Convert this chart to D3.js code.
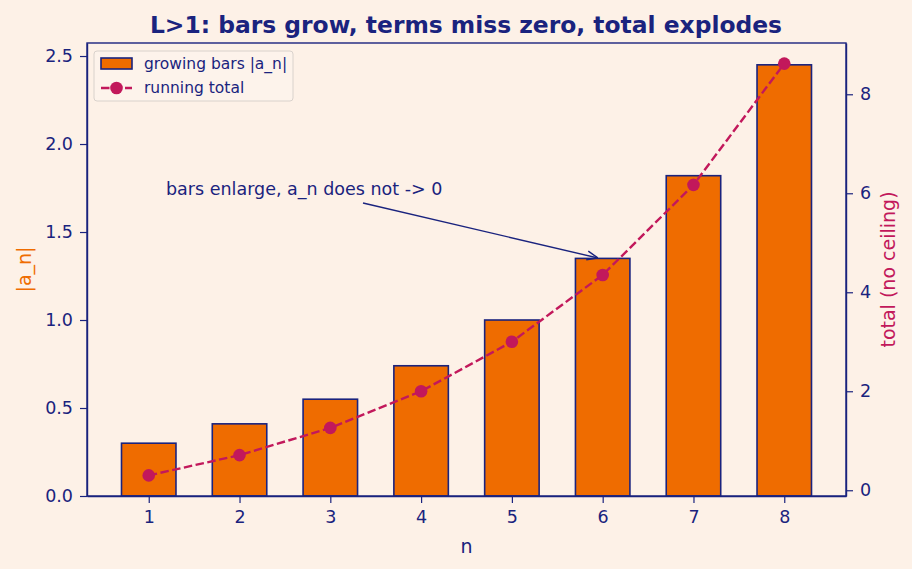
<!DOCTYPE html>
<html>
<head>
<meta charset="utf-8">
<script src="https://cdn.jsdelivr.net/npm/d3@7"></script>
<style>
  body { margin: 0; background: #fdf1e7; }
  svg { display: block; font-family: "DejaVu Sans", sans-serif; }
</style>
</head>
<body>
<script>
// chart data
var ns = [1, 2, 3, 4, 5, 6, 7, 8];
var barValues = [0.30, 0.41, 0.55, 0.74, 1.00, 1.35, 1.82, 2.45];
var runningTotal = [0.30, 0.71, 1.26, 2.00, 3.00, 4.35, 6.17, 8.62];
var leftTicks = [0.0, 0.5, 1.0, 1.5, 2.0, 2.5];
var rightTicks = [0, 2, 4, 6, 8];

var navy = "#1a237e";
var orange = "#ef6c00";
var crimson = "#c2185b";

var width = 912, height = 569;
var margin = {top: 43, right: 66, bottom: 73, left: 87};
var plotW = width - margin.left - margin.right;
var plotH = height - margin.top - margin.bottom;

var svg = d3.select("body").append("svg")
  .attr("width", width)
  .attr("height", height);

svg.append("rect").attr("width", width).attr("height", height).attr("fill", "#fdf1e7");

var g = svg.append("g").attr("transform", "translate(" + margin.left + "," + margin.top + ")");

var barW = 0.6;
var x = d3.scaleLinear().domain([0.32, 8.68]).range([0, plotW]);
var yLeft = d3.scaleLinear().domain([0, 2.574]).range([plotH, 0]);
var tMin = d3.min(runningTotal), tMax = d3.max(runningTotal), pad = (tMax - tMin) * 0.05;
var yRight = d3.scaleLinear().domain([tMin - pad, tMax + pad]).range([plotH, 0]);

// bars
g.selectAll(".bar")
  .data(barValues)
  .enter().append("rect")
  .attr("class", "bar")
  .attr("x", function(d, i) { return x(ns[i] - barW / 2); })
  .attr("width", function() { return x(barW) - x(0); })
  .attr("y", function(d) { return yLeft(d); })
  .attr("height", function(d) { return yLeft(0) - yLeft(d); })
  .attr("fill", orange)
  .attr("stroke", navy)
  .attr("stroke-width", 1.6);

// running total line
var line = d3.line()
  .x(function(d, i) { return x(ns[i]); })
  .y(function(d) { return yRight(d); });

g.append("path")
  .datum(runningTotal)
  .attr("d", line)
  .attr("fill", "none")
  .attr("stroke", crimson)
  .attr("stroke-width", 2.4)
  .attr("stroke-dasharray", "8.5,3.5");

g.selectAll(".dot")
  .data(runningTotal)
  .enter().append("circle")
  .attr("class", "dot")
  .attr("cx", function(d, i) { return x(ns[i]); })
  .attr("cy", function(d) { return yRight(d); })
  .attr("r", 6.3)
  .attr("fill", crimson);

// axes
function styleAxis(sel) {
  sel.selectAll("path").attr("stroke", navy).attr("stroke-width", 1.4);
  sel.selectAll("line").attr("stroke", navy).attr("stroke-width", 1.2);
  sel.selectAll("text").attr("fill", navy).style("font-size", "17.5px").style("font-family", "DejaVu Sans");
}

var xAxis = g.append("g")
  .attr("transform", "translate(0," + plotH + ")")
  .call(d3.axisBottom(x).tickValues(ns).tickFormat(d3.format("d")).tickSize(7).tickPadding(8).tickSizeOuter(0));
styleAxis(xAxis);

var leftAxis = g.append("g")
  .call(d3.axisLeft(yLeft).tickValues(leftTicks).tickFormat(d3.format(".1f")).tickSize(7).tickPadding(7).tickSizeOuter(0));
styleAxis(leftAxis);

var rightAxis = g.append("g")
  .attr("transform", "translate(" + plotW + ",0)")
  .call(d3.axisRight(yRight).tickValues(rightTicks).tickFormat(d3.format("d")).tickSize(7).tickPadding(7).tickSizeOuter(0));
styleAxis(rightAxis);

// frame
g.append("rect")
  .attr("width", plotW).attr("height", plotH)
  .attr("fill", "none").attr("stroke", navy).attr("stroke-width", 1.4);

// axis labels
svg.append("text")
  .attr("x", margin.left + plotW / 2).attr("y", 553)
  .attr("text-anchor", "middle").attr("fill", navy).style("font-size", "19px")
  .text("n");

svg.append("text")
  .attr("transform", "translate(31," + (margin.top + plotH / 2) + ") rotate(-90)")
  .attr("text-anchor", "middle").attr("fill", orange).style("font-size", "19px")
  .text("|a_n|");

svg.append("text")
  .attr("transform", "translate(895," + (margin.top + plotH / 2) + ") rotate(-90)")
  .attr("text-anchor", "middle").attr("fill", crimson).style("font-size", "19px")
  .text("total (no ceiling)");

// title
svg.append("text")
  .attr("x", margin.left + plotW / 2 - 0.5).attr("y", 33)
  .attr("text-anchor", "middle").attr("fill", navy)
  .style("font-size", "23.4px").style("font-weight", "bold")
  .text("L>1: bars grow, terms miss zero, total explodes");

// annotation
svg.append("defs").append("marker")
  .attr("id", "head").attr("viewBox", "0 0 10 10").attr("refX", 10).attr("refY", 5)
  .attr("markerWidth", 11).attr("markerHeight", 11).attr("markerUnits", "userSpaceOnUse")
  .attr("orient", "auto")
  .append("path").attr("d", "M0,1 L10,5 L0,9").attr("fill", "none").attr("stroke", navy).attr("stroke-width", 1.3);

svg.append("text")
  .attr("x", 166).attr("y", 195)
  .attr("fill", navy).style("font-size", "17.5px")
  .text("bars enlarge, a_n does not -> 0");

svg.append("line")
  .attr("x1", 363).attr("y1", 203).attr("x2", 598).attr("y2", 258)
  .attr("stroke", navy).attr("stroke-width", 1.4)
  .attr("marker-end", "url(#head)");

// legend
var legend = svg.append("g").attr("transform", "translate(94,51)");
legend.append("rect")
  .attr("width", 199).attr("height", 50).attr("rx", 3)
  .attr("fill", "#fdf4ec").attr("fill-opacity", 0.8)
  .attr("stroke", "#d9d2cc").attr("stroke-width", 1);
legend.append("rect")
  .attr("x", 7).attr("y", 7).attr("width", 31).attr("height", 11)
  .attr("fill", orange).attr("stroke", navy).attr("stroke-width", 1.6);
legend.append("text")
  .attr("x", 50).attr("y", 18).attr("fill", navy).style("font-size", "15.5px")
  .text("growing bars |a_n|");
legend.append("line")
  .attr("x1", 7).attr("x2", 38).attr("y1", 37).attr("y2", 37)
  .attr("stroke", crimson).attr("stroke-width", 2.4).attr("stroke-dasharray", "8.5,3.5");
legend.append("circle")
  .attr("cx", 22.5).attr("cy", 37).attr("r", 6.3).attr("fill", crimson);
legend.append("text")
  .attr("x", 50).attr("y", 42).attr("fill", navy).style("font-size", "15.5px")
  .text("running total");
</script>
</body>
</html>
